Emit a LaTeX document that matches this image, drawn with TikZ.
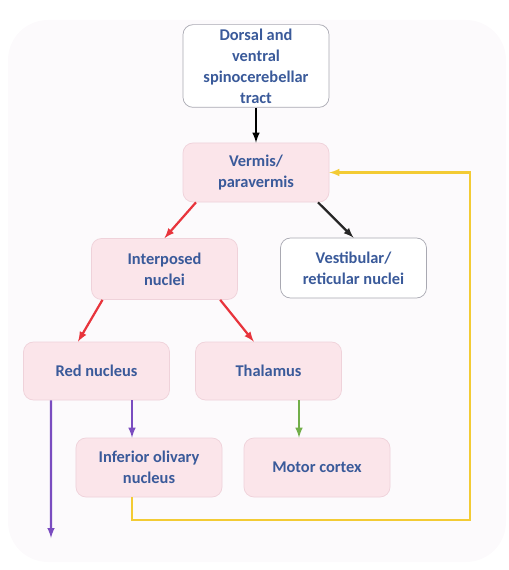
\documentclass[tikz,border=0pt]{standalone}
\usepackage{fontspec}
\setmainfont{Carlito}
\usepackage{tikz}
\usetikzlibrary{arrows,positioning,calc}
\definecolor{ink}{HTML}{3A5A9A}
\definecolor{pinkfill}{HTML}{FBE5EA}
\definecolor{pinkline}{HTML}{EFD2DA}
\definecolor{greyline}{HTML}{A9A9B2}
\definecolor{backfill}{HTML}{FCFAFC}
\definecolor{redarrow}{HTML}{E8343C}
\definecolor{purplearrow}{HTML}{7A4CC0}
\definecolor{greenarrow}{HTML}{72AE4A}
\definecolor{yellowarrow}{HTML}{F3CB34}
\tikzset{
 box/.style={rectangle, rounded corners=0.3cm, line width=0.6pt, minimum width=4.38cm, minimum height=1.77cm, align=center, text=ink, font=\fontsize{14}{18}\selectfont\bfseries},
 pinkbox/.style={box, fill=pinkfill, draw=pinkline},
 whitebox/.style={box, fill=white, draw=greyline},
 link/.style={->, >=latex, line width=1.9pt}
}

\begin{document}
\begin{tikzpicture}[x=0.03cm, y=-0.03cm]
 \useasboundingbox (0,0) rectangle (508,570);
 \fill[backfill, rounded corners=1.2cm] (8,20) rectangle (506,562);
%
 \node[whitebox, minimum height=2.46cm] (tract) at (256,66) {Dorsal and\\ventral\\spinocerebellar\\tract};
 \node[pinkbox] (vermis) at (256,172.5) {Vermis/\\paravermis};
 \node[pinkbox, minimum height=1.83cm] (interposed) at (164.5,269) {Interposed\\nuclei};
 \node[whitebox, minimum height=1.8cm] (vestibular) at (353.5,268) {Vestibular/\\reticular nuclei};
 \node[pinkbox, minimum height=1.74cm] (rednucleus) at (96.5,371) {Red nucleus};
 \node[pinkbox, minimum height=1.74cm] (thalamus) at (268.5,371) {Thalamus};
 \node[pinkbox] (olivary) at (149,467.5) {Inferior olivary\\nucleus};
 \node[pinkbox] (motor) at (317,467.5) {Motor cortex};
%
 \coordinate (descending) at (51,538);
 \coordinate (loopcorner) at (470,520);
%
 \draw[link, black] (tract) -- (vermis);
 \draw[link, redarrow] ([xshift=-1.8cm]vermis.south) -- (interposed.north);
 \draw[link, black!85] ([xshift=1.86cm]vermis.south) -- (vestibular.north);
 \draw[link, redarrow] ([xshift=-1.86cm]interposed.south) -- ([xshift=-0.555cm]rednucleus.north);
 \draw[link, redarrow] ([xshift=1.67cm]interposed.south) -- ([xshift=-0.44cm]thalamus.north);
 \draw[link, purplearrow] ([xshift=-1.365cm]rednucleus.south) -- (descending);
 \draw[link, purplearrow] ([xshift=1.065cm]rednucleus.south) -- ([xshift=1.065cm]rednucleus.south |- olivary.north);
 \draw[link, greenarrow] ([xshift=0.915cm]thalamus.south) -- ([xshift=0.915cm]thalamus.south |- motor.north);
 \draw[link, yellowarrow] ([xshift=-0.51cm]olivary.south) |- (loopcorner) |- (vermis.east);
\end{tikzpicture}
\end{document}
